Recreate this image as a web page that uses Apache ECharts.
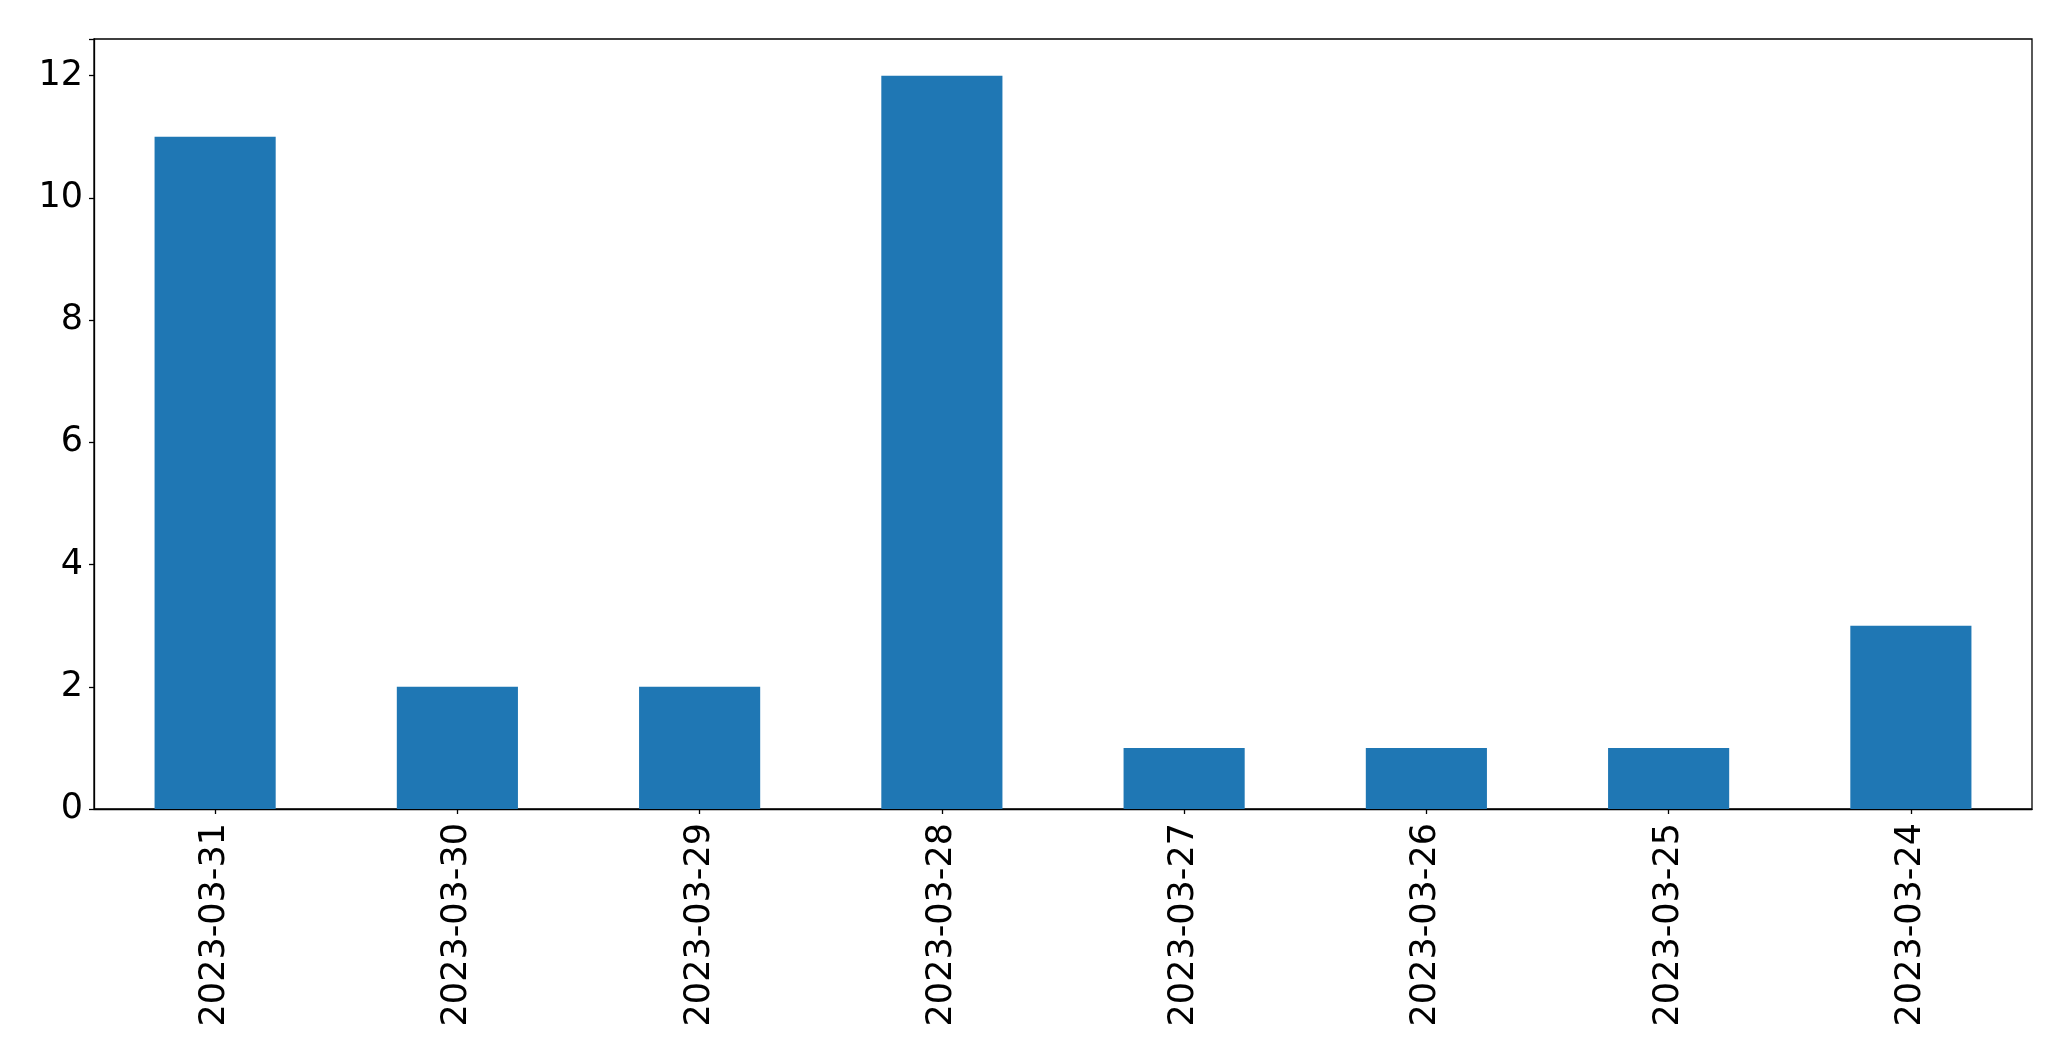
<!DOCTYPE html>
<html><head><meta charset="utf-8">
<script src="https://cdn.jsdelivr.net/npm/echarts@6/dist/echarts.min.js"></script>
<style>html,body{margin:0;padding:0;background:#fff}#c{width:2071px;height:1061px}</style>
</head><body><div id="c"></div>
<script>
const categories = ["2023-03-31","2023-03-30","2023-03-29","2023-03-28","2023-03-27","2023-03-26","2023-03-25","2023-03-24"];
const values = [11, 2, 2, 12, 1, 1, 1, 3];
const yTicks = [0, 2, 4, 6, 8, 10, 12];

const chart = echarts.init(document.getElementById('c'), null, {renderer: 'canvas'});
chart.setOption({
  animation: false,
  backgroundColor: '#fff',
  grid: {left: 94, top: 39, right: 39, bottom: 252, show: true, borderColor: '#000', borderWidth: 1.3, backgroundColor: 'transparent'},
  xAxis: {
    type: 'category', data: categories,
    axisLine: {show: true, lineStyle: {color: '#000', width: 1.3}},
    axisTick: {show: true, alignWithLabel: true, length: 5, lineStyle: {color: '#000', width: 1.3}},
    axisLabel: {rotate: 90, margin: 14, fontSize: 35, color: '#000', fontFamily: 'DejaVu Sans'},
    splitLine: {show: false}
  },
  yAxis: {
    type: 'value', min: 0, max: 12.6, interval: 2,
    axisLine: {show: true, lineStyle: {color: '#000', width: 1.3}},
    axisTick: {show: true, length: 5, lineStyle: {color: '#000', width: 1.3}},
    axisLabel: {margin: 11, fontSize: 35, color: '#000', fontFamily: 'DejaVu Sans',
      formatter: v => yTicks.includes(v) ? String(v) : ''},
    splitLine: {show: false}
  },
  series: [{type: 'bar', data: values, barWidth: '50%', itemStyle: {color: '#1f77b4'}}]
});
</script></body></html>
